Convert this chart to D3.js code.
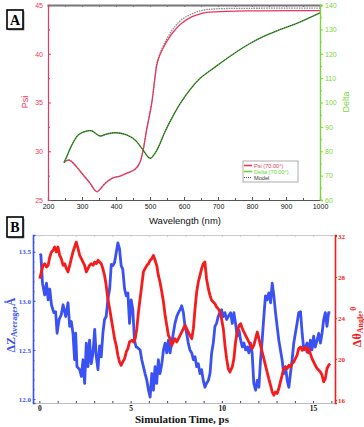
<!DOCTYPE html>
<html>
<head>
<meta charset="utf-8">
<script src="https://cdn.jsdelivr.net/npm/d3@7"></script>
<style>
  body { margin: 0; background: #fff; }
  svg { display: block; }
</style>
</head>
<body>
<svg id="chart" width="364" height="427"></svg>
<script>
// ---- panel A data (ellipsometry) ----
const psiWavelength = [247, 260, 270, 284, 304, 324, 338, 345, 353, 368, 387, 412, 436, 456, 469, 478, 485, 490, 505, 515, 520, 529, 549, 569, 593, 624, 653, 692, 790, 1000];
const psiValues = [28.87, 29.1, 28.93, 28.4, 27.56, 26.7, 26.0, 25.85, 26.1, 26.7, 27.2, 27.46, 27.8, 28.15, 28.76, 29.8, 31.15, 32.2, 34.9, 37.65, 38.85, 39.87, 41.24, 42.26, 43.12, 43.8, 44.15, 44.3, 44.4, 44.42];
const modelPsiWavelength = [247, 260, 270, 284, 304, 324, 338, 345, 353, 368, 387, 412, 436, 456, 469, 478, 485, 490, 505, 515, 520, 529, 549, 569, 593, 624, 653, 692, 790, 1000];
const modelPsiValues = [28.87, 29.1, 28.93, 28.4, 27.56, 26.7, 26.0, 25.85, 26.1, 26.7, 27.2, 27.46, 27.8, 28.15, 28.76, 29.8, 31.15, 32.2, 34.95, 37.75, 38.95, 40.0, 41.5, 42.6, 43.5, 44.1, 44.45, 44.6, 44.66, 44.68];
const deltaWavelength = [247, 255, 270, 289, 314, 328, 353, 373, 402, 431, 456, 476, 500, 515, 529, 544, 569, 593, 643, 692, 741, 790, 839, 888, 937, 1000];
const deltaValues = [75.3, 77.8, 82.5, 86.7, 88.3, 88.4, 86.25, 87.1, 87.6, 86.7, 84.6, 81.2, 77.1, 79.2, 83.0, 88.0, 94.8, 100.5, 109.3, 114.6, 119.5, 123.9, 127.4, 130.2, 132.8, 136.8];
const modelDeltaValues = [75.3, 77.8, 82.5, 86.7, 88.3, 88.4, 86.25, 87.1, 87.6, 86.7, 84.6, 81.2, 77.1, 79.2, 83.0, 88.0, 94.8, 100.5, 109.3, 114.6, 119.5, 123.9, 127.4, 130.2, 132.8, 136.8];
const wavelengthTicks = [200, 300, 400, 500, 600, 700, 800, 900, 1000];
const psiTicks = [25, 30, 35, 40, 45];
const deltaTicks = [60, 70, 80, 90, 100, 110, 120, 130, 140];
const legendLabels = ['Psi (70.00°)', 'Delta (70.00°)', 'Model'];

// ---- panel B data (simulation) ----
const zTime = [0.02, 0.08, 0.17, 0.29, 0.39, 0.48, 0.57, 0.66, 0.79, 0.89, 0.97, 1.08, 1.20, 1.30, 1.44, 1.57, 1.66, 1.75, 1.84, 1.93, 1.99, 2.06, 2.21, 2.30, 2.39, 2.48, 2.57, 2.66, 2.75, 2.84, 2.94, 3.03, 3.12, 3.21, 3.30, 3.39, 3.48, 3.57, 3.66, 3.75, 3.85, 3.94, 4.03, 4.12, 4.21, 4.30, 4.39, 4.48, 4.57, 4.67, 4.76, 4.85, 4.94, 5.03, 5.12, 5.21, 5.30,
  5.34, 5.52, 5.61, 5.70, 5.79, 5.89, 5.98, 6.07, 6.16, 6.25, 6.34, 6.43, 6.52, 6.61, 6.71, 6.80, 6.89, 6.98, 7.07, 7.16, 7.25, 7.34, 7.43, 7.53, 7.62, 7.71, 7.80, 7.89, 7.98, 8.07, 8.16, 8.25, 8.35, 8.44, 8.53, 8.62, 8.71, 8.80, 8.89, 8.98, 9.07, 9.16, 9.26, 9.35, 9.44, 9.53, 9.62, 9.71, 9.80, 9.89, 9.98, 10.08, 10.17, 10.26, 10.35,
  10.48, 10.57, 10.66, 10.75, 10.84, 10.94, 11.03, 11.12, 11.21, 11.30, 11.39, 11.48, 11.57, 11.66, 11.75, 11.85, 11.94, 12.03, 12.12, 12.21, 12.30, 12.39, 12.48, 12.57, 12.67, 12.76, 12.85, 12.94, 13.03, 13.12, 13.21, 13.30, 13.39, 13.49, 13.58, 13.67, 13.76, 13.85, 13.94, 14.03, 14.12, 14.21, 14.31, 14.40, 14.49, 14.58, 14.67, 14.76, 14.85, 14.94, 15.03, 15.12, 15.22, 15.31, 15.40, 15.49, 15.58, 15.67, 15.76, 15.85, 15.94];
const zAverage = [13.46, 13.47, 13.18, 13.06, 13.18, 13.01, 13.12, 12.96, 12.88, 12.89, 12.67, 12.81, 12.86, 12.96, 12.84, 12.98, 12.74, 12.79, 12.67, 12.40, 12.67, 12.33, 12.30, 12.23, 12.40, 12.16, 12.57, 12.33, 12.60, 12.36, 12.47, 12.71, 12.43, 12.30, 12.54, 12.43, 12.67, 12.81, 12.84, 13.01, 13.12, 13.37, 13.36, 13.39, 13.49, 13.59, 13.53, 13.36, 13.32, 13.12, 13.05, 13.08, 12.77, 13.01, 12.91, 12.60, 12.53,
  12.53, 12.50, 12.40, 12.33, 12.26, 12.19, 12.09, 12.02, 12.26, 12.09, 12.33, 12.16, 12.40, 12.26, 12.36, 12.50, 12.57, 12.47, 12.60, 12.47, 12.57, 12.67, 12.77, 12.84, 12.88, 12.91, 12.95, 12.88, 12.74, 12.67, 12.57, 12.50, 12.47, 12.40, 12.43, 12.33, 12.36, 12.26, 12.30, 12.19, 12.12, 12.16, 12.19, 12.26, 12.47, 12.57, 12.74, 12.77, 12.84, 12.88, 12.91, 12.84, 12.88, 12.81, 12.84,
  12.88, 12.77, 12.88, 12.77, 12.64, 12.70, 12.60, 12.53, 12.57, 12.50, 12.53, 12.47, 12.57, 12.47, 12.16, 12.09, 12.19, 12.12, 12.40, 12.60, 12.84, 13.05, 13.01, 13.08, 12.98, 13.18, 13.05, 12.88, 12.74, 12.60, 12.50, 12.40, 12.26, 12.33, 12.19, 12.12, 12.26, 12.40, 12.57, 12.67, 12.77, 12.88, 12.89, 12.67, 12.50, 12.53, 12.57, 12.47, 12.60, 12.50, 12.64, 12.53, 12.60, 12.67, 12.57, 12.67, 12.81, 12.88, 12.74, 12.88, 12.88];
const angleTime = [0.02, 0.11, 0.20, 0.29, 0.39, 0.48, 0.57, 0.66, 0.75, 0.84, 0.93, 1.02, 1.11, 1.20, 1.30, 1.39, 1.48, 1.57, 1.66, 1.75, 1.84, 1.93, 2.02, 2.12, 2.21, 2.30, 2.39, 2.48, 2.57, 2.66, 2.75, 2.84, 2.94, 3.03, 3.12, 3.21, 3.30, 3.39, 3.48, 3.57, 3.66, 3.75, 3.85, 3.94, 4.03, 4.12, 4.21, 4.30, 4.39, 4.48, 4.57, 4.67, 4.76, 4.85, 4.94,
  5.07, 5.16, 5.25, 5.34, 5.43, 5.52, 5.61, 5.70, 5.79, 5.89, 5.98, 6.07, 6.16, 6.25, 6.34, 6.43, 6.52, 6.61, 6.71, 6.80, 6.89, 6.98, 7.07, 7.16, 7.25, 7.34, 7.43, 7.53, 7.62, 7.71, 7.80, 7.89, 7.98, 8.07, 8.16, 8.25, 8.35, 8.44, 8.53, 8.62, 8.71, 8.80, 8.89, 8.98, 9.07, 9.16, 9.26, 9.35, 9.44, 9.53, 9.62, 9.71, 9.80, 9.89, 9.98, 10.08, 10.17, 10.26, 10.35, 10.44,
  10.57, 10.66, 10.75, 10.84, 10.94, 11.03, 11.12, 11.21, 11.30, 11.39, 11.48, 11.57, 11.66, 11.75, 11.85, 11.94, 12.03, 12.12, 12.21, 12.30, 12.39, 12.48, 12.57, 12.67, 12.76, 12.85, 12.94, 13.03, 13.12, 13.21, 13.30, 13.39, 13.49, 13.58, 13.67, 13.76, 13.85, 13.94, 14.03, 14.12, 14.21, 14.31, 14.40, 14.49, 14.58, 14.67, 14.76, 14.85, 14.94, 15.03, 15.12, 15.22, 15.31, 15.40, 15.49, 15.58, 15.67, 15.76, 15.85, 15.94];
const angleValues = [27.84, 28.49, 29.14, 29.30, 28.98, 29.14, 29.95, 30.44, 30.60, 30.93, 30.44, 30.93, 30.11, 29.79, 29.14, 29.30, 28.81, 28.49, 29.14, 29.79, 30.44, 30.93, 31.41, 30.76, 30.11, 29.79, 29.46, 29.14, 28.49, 28.81, 29.14, 29.30, 29.14, 29.46, 29.30, 29.63, 29.46, 29.30, 28.81, 28.16, 27.19, 25.89, 24.91, 23.93, 22.96, 21.98, 21.33, 20.36, 19.71, 19.38, 19.71, 20.03, 20.68, 21.01, 21.66,
  21.82, 21.66, 21.98, 22.96, 24.59, 25.89, 27.19, 28.49, 28.81, 29.14, 29.30, 29.63, 29.79, 30.11, 29.63, 29.14, 28.16, 27.51, 26.54, 25.56, 24.26, 23.28, 22.31, 21.98, 21.33, 21.66, 21.98, 21.66, 21.98, 22.31, 22.63, 22.96, 23.28, 22.96, 22.63, 22.31, 21.98, 22.96, 24.91, 26.54, 27.51, 28.16, 28.81, 29.30, 29.46, 27.84, 26.86, 26.21, 25.72, 25.56, 25.40, 25.07, 24.91, 24.59, 23.93, 22.96, 21.33, 20.03, 19.06, 18.73,
  19.22, 20.03, 21.66, 22.63, 23.28, 23.45, 22.96, 22.63, 22.31, 21.98, 21.66, 21.33, 21.01, 21.33, 21.98, 22.63, 21.98, 21.33, 20.68, 20.03, 19.38, 18.73, 18.08, 17.43, 16.78, 16.46, 16.78, 16.62, 17.11, 17.76, 18.41, 19.06, 19.22, 19.06, 19.38, 19.22, 19.54, 19.71, 20.03, 20.36, 21.01, 21.17, 20.85, 21.01, 21.17, 20.68, 21.01, 20.52, 20.03, 19.71, 19.38, 19.06, 18.89, 18.73, 18.41, 17.76, 18.08, 19.06, 19.38, 19.54];
const timeTicks = [0, 5, 10, 15];
const zTicks = [12.0, 12.5, 13.0, 13.5];
const angleTicks = [16, 20, 24, 28, 32];

const svg = d3.select('#chart');
const sans = 'Liberation Sans, Arial, sans-serif';
const serif = 'Liberation Serif, Times New Roman, serif';

function styleAxis(g, color, width) {
    g.select('.domain').attr('stroke', color).attr('stroke-width', width);
    g.selectAll('.tick line').attr('stroke', color);
}

function panelLabel(x, y, w, h, letter) {
    svg.append('rect').attr('x', x + 1.5).attr('y', y + 1.5).attr('width', w).attr('height', h).attr('fill', '#999');
    svg.append('rect').attr('x', x).attr('y', y).attr('width', w).attr('height', h)
        .attr('fill', '#fff').attr('stroke', '#000').attr('stroke-width', 1.6);
    svg.append('text').attr('x', x + w / 2).attr('y', y + h / 2 + 5)
        .attr('text-anchor', 'middle').attr('font-family', serif).attr('font-weight', 'bold')
        .attr('font-size', 14).text(letter);
}

// ================= panel A =================
const xA = d3.scaleLinear().domain([200, 1000]).range([48, 320]);
const yPsi = d3.scaleLinear().domain([25, 45]).range([200, 5]);
const yDelta = d3.scaleLinear().domain([60, 140]).range([200, 5]);
const psiColor = '#e8385e';
const deltaAxisColor = '#7ad63a';
const deltaLineColor = '#3f9e2a';

// top frame
let topA = svg.append('g').attr('transform', 'translate(0,5)')
    .call(d3.axisTop(xA).tickValues(d3.range(200, 1001, 50)).tickSize(-2).tickFormat(''));
styleAxis(topA, '#777', 2);

// bottom axis
let botA = svg.append('g').attr('transform', 'translate(0,200)')
    .call(d3.axisBottom(xA).tickValues(wavelengthTicks).tickSize(-3).tickPadding(4).tickFormat(d3.format('d')));
styleAxis(botA, '#555', 1.2);
botA.selectAll('text').attr('font-family', sans).attr('font-size', 7).attr('fill', '#111');
let botAMinor = svg.append('g').attr('transform', 'translate(0,200)')
    .call(d3.axisBottom(xA).tickValues(d3.range(250, 1000, 100)).tickSize(-2).tickFormat(''));
styleAxis(botAMinor, '#555', 0);

// left axis
let leftA = svg.append('g').attr('transform', 'translate(48,0)')
    .call(d3.axisLeft(yPsi).tickValues(psiTicks).tickSize(-3).tickPadding(5));
styleAxis(leftA, psiColor, 1.2);
leftA.selectAll('text').attr('font-family', sans).attr('font-size', 7).attr('fill', psiColor);
let leftAMinor = svg.append('g').attr('transform', 'translate(48,0)')
    .call(d3.axisLeft(yPsi).tickValues([27.5, 32.5, 37.5, 42.5]).tickSize(-2).tickFormat(''));
styleAxis(leftAMinor, psiColor, 0);

// right axis
let rightA = svg.append('g').attr('transform', 'translate(320,0)')
    .call(d3.axisRight(yDelta).tickValues(deltaTicks).tickSize(3).tickPadding(2));
styleAxis(rightA, deltaAxisColor, 1.4);
rightA.selectAll('text').attr('font-family', sans).attr('font-size', 7).attr('fill', deltaAxisColor);
let rightAMinor = svg.append('g').attr('transform', 'translate(320,0)')
    .call(d3.axisRight(yDelta).tickValues(d3.range(65, 140, 10)).tickSize(2).tickFormat(''));
styleAxis(rightAMinor, deltaAxisColor, 0);

// curves
const psiLine = d3.line().x(d => xA(d[0])).y(d => yPsi(d[1])).curve(d3.curveCatmullRom.alpha(0.5));
const deltaLine = d3.line().x(d => xA(d[0])).y(d => yDelta(d[1])).curve(d3.curveCatmullRom.alpha(0.5));

svg.append('path').datum(d3.zip(modelPsiWavelength, modelPsiValues))
    .attr('d', psiLine).attr('fill', 'none').attr('stroke', '#888').attr('stroke-width', 1.3)
    .attr('stroke-dasharray', '1.5,1');
svg.append('path').datum(d3.zip(psiWavelength, psiValues))
    .attr('d', psiLine).attr('fill', 'none').attr('stroke', psiColor).attr('stroke-width', 1.3);
svg.append('path').datum(d3.zip(deltaWavelength, deltaValues))
    .attr('d', deltaLine).attr('fill', 'none').attr('stroke', deltaLineColor).attr('stroke-width', 1.4);
svg.append('path').datum(d3.zip(deltaWavelength, modelDeltaValues))
    .attr('d', deltaLine).attr('fill', 'none').attr('stroke', '#222').attr('stroke-width', 0.8)
    .attr('stroke-dasharray', '1,1.2');

// axis titles
svg.append('text').attr('transform', 'translate(28,102) rotate(-90)').attr('text-anchor', 'middle')
    .attr('font-family', sans).attr('font-size', 9).attr('fill', psiColor).text('Psi');
svg.append('text').attr('transform', 'translate(349,102) rotate(-90)').attr('text-anchor', 'middle')
    .attr('font-family', sans).attr('font-size', 9).attr('fill', deltaAxisColor).text('Delta');
svg.append('text').attr('x', 185).attr('y', 224).attr('text-anchor', 'middle')
    .attr('font-family', sans).attr('font-size', 9.5).attr('fill', '#111').text('Wavelength (nm)');

// legend
const legend = svg.append('g').attr('transform', 'translate(243,161)');
legend.append('rect').attr('width', 55).attr('height', 21).attr('fill', '#fff')
    .attr('stroke', '#999').attr('stroke-width', 0.8);
const legendColors = [psiColor, '#6cd43a', '#333'];
legendLabels.forEach((label, i) => {
    const yy = 4.5 + i * 6;
    legend.append('line').attr('x1', 1).attr('x2', 9).attr('y1', yy).attr('y2', yy)
        .attr('stroke', legendColors[i]).attr('stroke-width', i < 2 ? 1.6 : 0.9)
        .attr('stroke-dasharray', i === 2 ? '1,1' : null);
    legend.append('text').attr('x', 11).attr('y', yy + 2).attr('font-family', sans)
        .attr('font-size', 5.6).attr('fill', legendColors[i]).text(label);
});

panelLabel(7, 10, 16, 19, 'A');

// ================= panel B =================
const xB = d3.scaleLinear().domain([-0.35, 16.2]).range([33, 335]);
const yZ = d3.scaleLinear().domain([11.96, 13.67]).range([403, 235]);
const yAngle = d3.scaleLinear().domain([15.7, 32.1]).range([403, 235]);
const blue = '#3a52f2';
const red = '#f41c1c';

let topB = svg.append('g').attr('transform', 'translate(0,235)')
    .call(d3.axisTop(xB).tickValues(d3.range(0, 17, 1)).tickSize(-2).tickFormat(''));
styleAxis(topB, '#c9cbd6', 1);

let botB = svg.append('g').attr('transform', 'translate(0,403)')
    .call(d3.axisBottom(xB).tickValues(d3.range(0, 17, 1)).tickSize(-2).tickFormat(''));
styleAxis(botB, '#b8bccc', 1.2);
botB.selectAll('.tick line').attr('stroke', '#445');
let botBLabels = svg.append('g').attr('transform', 'translate(0,403)')
    .call(d3.axisBottom(xB).tickValues(timeTicks).tickSize(0).tickPadding(3));
botBLabels.select('.domain').remove();
botBLabels.selectAll('text').attr('font-family', serif).attr('font-weight', 'bold')
    .attr('font-size', 7.5).attr('fill', '#111');

let leftB = svg.append('g').attr('transform', 'translate(33,0)')
    .call(d3.axisLeft(yZ).tickValues(zTicks).tickSize(-2.5).tickPadding(2).tickFormat(d3.format('.1f')));
styleAxis(leftB, blue, 1.6);
leftB.selectAll('text').attr('font-family', serif).attr('font-weight', 'bold')
    .attr('font-size', 7).attr('fill', blue);
let leftBMinor = svg.append('g').attr('transform', 'translate(33,0)')
    .call(d3.axisLeft(yZ).tickValues(d3.range(12.0, 13.65, 0.1)).tickSize(-1.5).tickFormat(''));
styleAxis(leftBMinor, blue, 0);

let rightB = svg.append('g').attr('transform', 'translate(335,0)')
    .call(d3.axisRight(yAngle).tickValues(angleTicks).tickSize(2).tickPadding(1));
styleAxis(rightB, red, 1.6);
rightB.selectAll('text').attr('font-family', serif).attr('font-weight', 'bold')
    .attr('font-size', 7).attr('fill', red);

const zLine = d3.line().x(d => xB(d[0])).y(d => yZ(d[1]));
const angleLine = d3.line().x(d => xB(d[0])).y(d => yAngle(d[1]));
svg.append('path').datum(d3.zip(zTime, zAverage))
    .attr('d', zLine).attr('fill', 'none').attr('stroke', blue).attr('stroke-width', 2.8)
    .attr('stroke-linejoin', 'round');
svg.append('path').datum(d3.zip(angleTime, angleValues))
    .attr('d', angleLine).attr('fill', 'none').attr('stroke', red).attr('stroke-width', 2.8)
    .attr('stroke-linejoin', 'round');

// axis titles
const zTitle = svg.append('text').attr('transform', 'translate(15,325) rotate(-90)')
    .attr('text-anchor', 'middle').attr('font-family', serif).attr('font-weight', 'bold')
    .attr('font-size', 12).attr('fill', blue);
zTitle.append('tspan').text('ΔZ');
zTitle.append('tspan').attr('font-size', 8).attr('dy', 2).text('Average');
zTitle.append('tspan').attr('dy', -2).text(',Å');

const angleTitle = svg.append('text').attr('transform', 'translate(361,327) rotate(-90)')
    .attr('text-anchor', 'middle').attr('font-family', serif).attr('font-weight', 'bold')
    .attr('font-size', 12).attr('fill', red);
angleTitle.append('tspan').text('Δθ');
angleTitle.append('tspan').attr('font-size', 8).attr('dy', 2).text('Angle');
angleTitle.append('tspan').attr('font-size', 10).attr('dy', -2).text(',');
angleTitle.append('tspan').attr('font-size', 8).attr('dy', -5).text('0');

svg.append('text').attr('x', 182).attr('y', 423).attr('text-anchor', 'middle')
    .attr('font-family', serif).attr('font-weight', 'bold').attr('font-size', 11)
    .attr('fill', '#111').text('Simulation Time, ps');

panelLabel(7, 217, 16, 20, 'B');
</script>
</body>
</html>
